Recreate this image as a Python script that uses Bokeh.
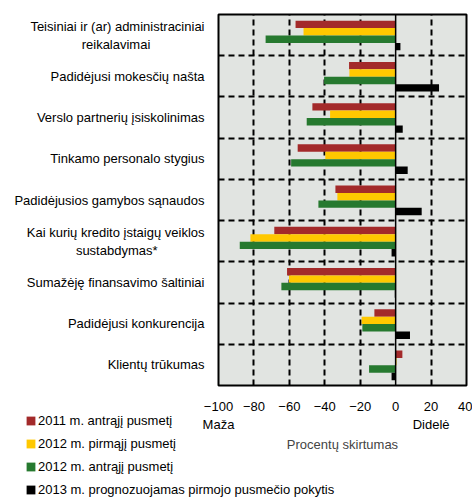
from bokeh.plotting import figure
from bokeh.layouts import column, row
from bokeh.models import Range1d, FixedTicker, Legend, LegendItem, Span, ColumnDataSource
from bokeh.embed import file_html
from bokeh.resources import INLINE

NB = "\u00a0"
categories = [
    "Teisiniai ir (ar) administraciniai\nreikalavimai" + NB * 15,
    "Padidėjusi mokesčių našta",
    "Verslo partnerių įsiskolinimas",
    "Tinkamo personalo stygius",
    "Padidėjusios gamybos sąnaudos",
    "Kai kurių kredito įstaigų veiklos\nsustabdymas*" + NB * 13,
    "Sumažėję finansavimo šaltiniai",
    "Padidėjusi konkurencija",
    "Klientų trūkumas",
]
s2011_h2 = [-56.5, -26.3, -47.0, -55.3, -34.0, -68.5, -61.3, -12.0, 3.8]
s2012_h1 = [-52.0, -26.1, -37.0, -39.7, -32.9, -82.0, -60.2, -19.2, 0.5]
s2012_h2 = [-73.4, -40.4, -50.2, -59.0, -43.6, -88.0, -64.5, -18.8, -15.0]
s2013_f = [2.7, 24.5, 4.0, 6.8, 14.7, -2.3, -0.5, 8.1, -2.3]
series_names = [
    "2011 m. antrąjį pusmetį",
    "2012 m. pirmąjį pusmetį",
    "2012 m. antrąjį pusmetį",
    "2013 m. prognozuojamas pirmojo pusmečio pokytis",
]
x_ticks = [-100, -80, -60, -40, -20, 0, 20, 40]
x_tick_labels = ["−100\nMaža", "−80", "−60", "−40", "−20", "0", "20\nDidelė", "40"]

colors = ["#A32A2A", "#FFC800", "#26792F", "#000000"]
offsets = [0.26, 0.08, -0.10, -0.28]
FONT = "Liberation Sans"
FS = "13px"

n = len(categories)
centers = [n - 0.5 - i for i in range(n)]
series = [s2011_h2, s2012_h1, s2012_h2, s2013_f]

p = figure(width=472, height=497, output_backend="svg", toolbar_location=None,
           x_range=Range1d(-100, 40), y_range=Range1d(0, n),
           min_border_left=218, min_border_right=6, min_border_top=14, min_border_bottom=112)
p.background_fill_color = "#E1E4E1"
p.border_fill_color = "white"
p.outline_line_color = "black"
p.outline_line_width = 2

for vals, col, off in zip(series, colors, offsets):
    src = ColumnDataSource(dict(y=[c + off for c in centers], right=vals))
    p.hbar(y="y", left=0, right="right", height=0.18, source=src,
           fill_color=col, line_color=None)

p.add_layout(Span(location=0, dimension="height", line_color="black", line_width=1.5))

# grids
p.xgrid.ticker = FixedTicker(ticks=[-80, -60, -40, -20, 20])
p.ygrid.ticker = FixedTicker(ticks=list(range(1, n)))
for g in (p.xgrid[0], p.ygrid[0]):
    g.grid_line_color = "black"
    g.grid_line_width = 2
    g.grid_line_dash = "6 4"

# x axis
xa = p.xaxis[0]
xa.ticker = FixedTicker(ticks=x_ticks)
xa.major_label_overrides = {t: l for t, l in zip(x_ticks, x_tick_labels)}
xa.axis_line_color = None
xa.major_tick_line_color = None
xa.minor_tick_line_color = None
xa.major_label_standoff = 7
xa.major_label_text_font = FONT
xa.major_label_text_font_size = FS
xa.major_label_text_color = "black"
xa.axis_label = "Procentų skirtumas"
xa.axis_label_text_font = FONT
xa.axis_label_text_font_size = FS
xa.axis_label_text_font_style = "normal"
xa.axis_label_standoff = 2

# y axis
ya = p.yaxis[0]
ya.ticker = FixedTicker(ticks=centers)
ya.major_label_overrides = {c: l for c, l in zip(centers, categories)}
ya.axis_line_color = None
ya.major_tick_line_color = None
ya.minor_tick_line_color = None
ya.major_label_standoff = 8
ya.major_label_text_font = FONT
ya.major_label_text_font_size = FS
ya.major_label_text_color = "black"

# legend in an overlaid transparent figure (series drawn out of its view, used as legend proxies)
lh = 87
lf = figure(width=360, height=lh, output_backend="svg", toolbar_location=None,
            x_axis_type=None, y_axis_type=None, min_border=0,
            x_range=Range1d(-100, 40), y_range=Range1d(100, 101))
lf.background_fill_color = None
lf.border_fill_color = None
lf.outline_line_color = None
lf.grid.visible = False
proxies = []
for vals, col in zip(series, colors):
    proxies.append(lf.hbar(y=centers, left=0, right=vals, height=0.18,
                           fill_color=col, line_color=None))
legend = Legend(items=[LegendItem(label=nm, renderers=[r]) for nm, r in zip(series_names, proxies)],
                location=(25, -2), orientation="vertical",
                label_text_font=FONT, label_text_font_size=FS, label_text_color="black",
                glyph_width=11, glyph_height=11, label_height=20, label_standoff=2,
                spacing=3, padding=0, margin=0,
                border_line_color=None, background_fill_alpha=0)
lf.add_layout(legend, "center")

layout = column(p, row(lf, margin=(-lh, 0, 0, 0)), spacing=0)
open("out.html", "w").write(file_html(layout, INLINE))
